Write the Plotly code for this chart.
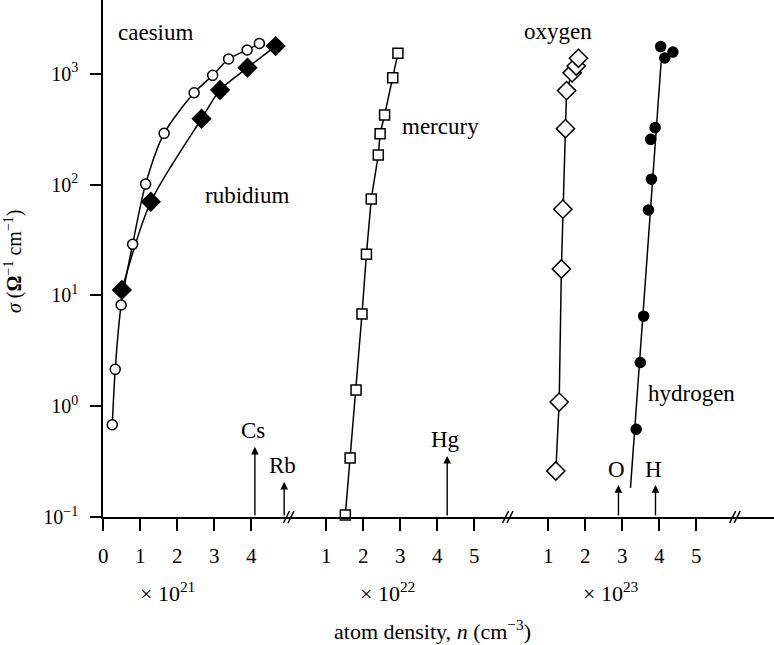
import numpy as np
import plotly.graph_objects as go

# ---------------- data ----------------
# caesium, n in units of 1e21 cm^-3
cs_n = [0.25, 0.33, 0.49, 0.80, 1.15, 1.65, 2.46, 2.96, 3.39, 3.89, 4.22]
cs_sigma = [0.68, 2.15, 8.2, 28.9, 101, 290, 675, 968, 1360, 1640, 1880]
# rubidium, 1e21
rb_n = [0.51, 1.29, 2.66, 3.16, 3.90, 4.66]
rb_sigma = [11.2, 70, 393, 714, 1135, 1780]
# mercury, 1e22
hg_n = [1.52, 1.65, 1.81, 1.97, 2.09, 2.22, 2.41, 2.46, 2.58, 2.80, 2.94]
hg_sigma = [0.104, 0.34, 1.4, 6.8, 23.5, 74, 185, 288, 425, 922, 1530]
# oxygen, 1e23
ox_n = [1.21, 1.30, 1.36, 1.40, 1.47, 1.50, 1.65, 1.76, 1.82]
ox_sigma = [0.26, 1.09, 17.3, 60, 320, 705, 1020, 1175, 1380]
# hydrogen, 1e23
h_n = [3.38, 3.49, 3.58, 3.71, 3.79, 3.77, 3.89, 4.04, 4.15, 4.37]
h_sigma = [0.62, 2.48, 6.5, 59, 112, 256, 327, 1760, 1390, 1570]
# hydrogen fitted line
h_fit_n = [3.225, 4.05, 4.39]
h_fit_sigma = [0.183, 1250, 1710]

# liquid densities (arrows)
arrow_labels = ["Cs", "Rb", "Hg", "O", "H"]
arrow_axis = ["x", "x", "x2", "x3", "x3"]
arrow_n = [4.1, 4.89, 4.27, 2.9, 3.9]
arrow_tip = [0.43, 0.208, 0.356, 0.194, 0.194]

seg1_ticks = [0, 1, 2, 3, 4]
seg2_ticks = [1, 2, 3, 4, 5]
seg3_ticks = [1, 2, 3, 4, 5]
y_ticks = [0.1, 1, 10, 100, 1000]
y_ticktext = ["10<sup>−1</sup>", "10<sup>0</sup>", "10<sup>1</sup>", "10<sup>2</sup>", "10<sup>3</sup>"]

FONT = "Liberation Serif, Times New Roman, serif"
BLACK = "#000000"

fig = go.Figure()

def add(xs, ys, axis, symbol, fill, size, shape="spline", mode="lines+markers"):
    fig.add_trace(go.Scatter(
        x=xs, y=ys, xaxis=axis, yaxis="y", mode=mode,
        line=dict(color=BLACK, width=1.5, shape=shape, smoothing=0.8),
        marker=dict(symbol=symbol, size=size, color=fill,
                    line=dict(color=BLACK, width=1.5)),
        cliponaxis=False, showlegend=False, hoverinfo="skip"))

add(rb_n, rb_sigma, "x", "diamond", BLACK, 14)
add(cs_n, cs_sigma, "x", "circle", "white", 10)
add(hg_n, hg_sigma, "x2", "square", "white", 10, shape="linear")
add(ox_n, ox_sigma, "x3", "diamond", "white", 14, shape="linear")
add(h_fit_n, h_fit_sigma, "x3", "circle", BLACK, 1, shape="linear", mode="lines")
add(h_n, h_sigma, "x3", "circle", BLACK, 10, mode="markers")

# layout geometry
W, H = 774, 645
L, B = 103, 128
pw = W - L
ph = H - B
d1 = (289 - L) / pw
d2 = (511 - L) / pw
ppu = 37.05  # pixels per unit on every segment
segs = {"x": (0.0, d1), "x2": (d1, d2), "x3": (d2, 1.0)}
ranges = {k: (b - a) * pw / ppu for k, (a, b) in segs.items()}

axis_common = dict(showgrid=False, zeroline=False, showline=True, linecolor=BLACK,
                   linewidth=1.7, ticks="outside", ticklen=12, tickwidth=1.6,
                   tickcolor=BLACK, showticklabels=False,
                   tickmode="array", anchor="y", fixedrange=True)

fig.update_layout(
    width=W, height=H,
    margin=dict(l=L, r=0, t=0, b=B, pad=0),
    paper_bgcolor="white", plot_bgcolor="white",
    font=dict(family=FONT, color=BLACK),
    xaxis=dict(domain=list(segs["x"]), range=[0, ranges["x"]], tickvals=seg1_ticks, **axis_common),
    xaxis2=dict(domain=list(segs["x2"]), range=[0, ranges["x2"]], tickvals=seg2_ticks, **axis_common),
    xaxis3=dict(domain=list(segs["x3"]), range=[0, ranges["x3"]], tickvals=seg3_ticks, **axis_common),
    yaxis=dict(type="log", range=[-1, -1 + ph / 110.8], anchor="x",
               showgrid=False, zeroline=False, showline=True, linecolor=BLACK,
               linewidth=1.7, ticks="outside", ticklen=11, tickwidth=1.6, tickcolor=BLACK,
               tickmode="array", tickvals=y_ticks, ticktext=y_ticktext, ticklabelstandoff=8,
               tickfont=dict(family=FONT, size=20, color=BLACK), fixedrange=True),
)

ann = []
shapes = []
# x tick labels and tick marks of the three broken segments
for ax_, vals in (("x", seg1_ticks), ("x2", seg2_ticks), ("x3", seg3_ticks)):
    a, b = segs[ax_]
    for v in vals:
        ann.append(dict(x=v, y=(ph - 556) / ph, xref=ax_, yref="paper", text=str(v),
                        showarrow=False, xanchor="center", yanchor="middle",
                        font=dict(family=FONT, size=21, color=BLACK)))
        xp = a + (b - a) * v / ranges[ax_]
        shapes.append(dict(type="line", xref="paper", x0=xp, x1=xp, yref="paper",
                           y0=0, y1=-12 / ph, layer="above",
                           line=dict(color=BLACK, width=1.6)))

# arrows for liquid densities
for lab, ax_, n, tip in zip(arrow_labels, arrow_axis, arrow_n, arrow_tip):
    ann.append(dict(x=n, y=np.log10(tip), xref=ax_, yref="y", ax=n, ay=-1,
                    axref=ax_, ayref="y", text="", showarrow=True, arrowhead=2,
                    arrowsize=1.1, arrowwidth=1.4, arrowcolor=BLACK, standoff=0))
    ann.append(dict(x=n, y=np.log10(tip), xref=ax_, yref="y", text=lab, showarrow=False,
                    xanchor="center", yanchor="middle",
                    yshift=16, xshift=-2, font=dict(family=FONT, size=23, color=BLACK)))

# series labels (positioned in data space of their segment)
series_labels = [("caesium", "x", 1.43, 3.37), ("rubidium", "x", 3.9, 1.906),
                 ("mercury", "x2", 4.08, 2.52), ("oxygen", "x3", 1.277, 3.38),
                 ("hydrogen", "x3", 4.86, 0.119)]
for txt, ax_, xv, ly in series_labels:
    ann.append(dict(x=xv, y=ly, xref=ax_, yref="y", text=txt, showarrow=False,
                    xanchor="center", yanchor="middle",
                    font=dict(family=FONT, size=23, color=BLACK)))

# multipliers
for txt, px in [("× 10<sup>21</sup>", 167.5), ("× 10<sup>22</sup>", 387), ("× 10<sup>23</sup>", 611)]:
    ann.append(dict(x=(px - L) / pw, y=(ph - 592) / ph, xref="paper", yref="paper",
                    xanchor="center", yanchor="middle",
                    text=txt, showarrow=False, font=dict(family=FONT, size=22, color=BLACK)))

# axis titles
ann.append(dict(x=(432 - L) / pw, y=(ph - 630) / ph, xref="paper", yref="paper",
                xanchor="center", yanchor="middle",
                text="atom density, <i>n</i> (cm<sup>−3</sup>)", showarrow=False,
                font=dict(family=FONT, size=22, color=BLACK)))
ann.append(dict(x=(13 - L) / pw, y=(ph - 262) / ph, xref="paper", yref="paper",
                xanchor="center", yanchor="middle",
                text="<i>σ</i> (<b>Ω</b><sup>−1</sup> cm<sup>−1</sup>)", showarrow=False,
                textangle=-90, font=dict(family=FONT, size=20, color=BLACK)))
fig.update_layout(annotations=ann)

# axis break marks "//"
for xr, xa in [("x2", 0.0), ("x2", ranges["x2"] - 0.08), ("x3", 6.05)]:
    a, b = segs[xr]
    xp = a + (b - a) * xa / ranges[xr]
    for dx in (-2.5, 2.0):
        shapes.append(dict(type="line", xref="paper", yref="paper", xsizemode="pixel",
                           ysizemode="pixel", xanchor=xp, yanchor=0, layer="above",
                           x0=dx - 3, x1=dx + 3, y0=-6, y1=6,
                           line=dict(color=BLACK, width=1.6)))
fig.update_layout(shapes=shapes)

fig.write_html("out.html", config={"displayModeBar": False},
               post_script="document.body.style.margin='0';document.body.style.padding='0';")
